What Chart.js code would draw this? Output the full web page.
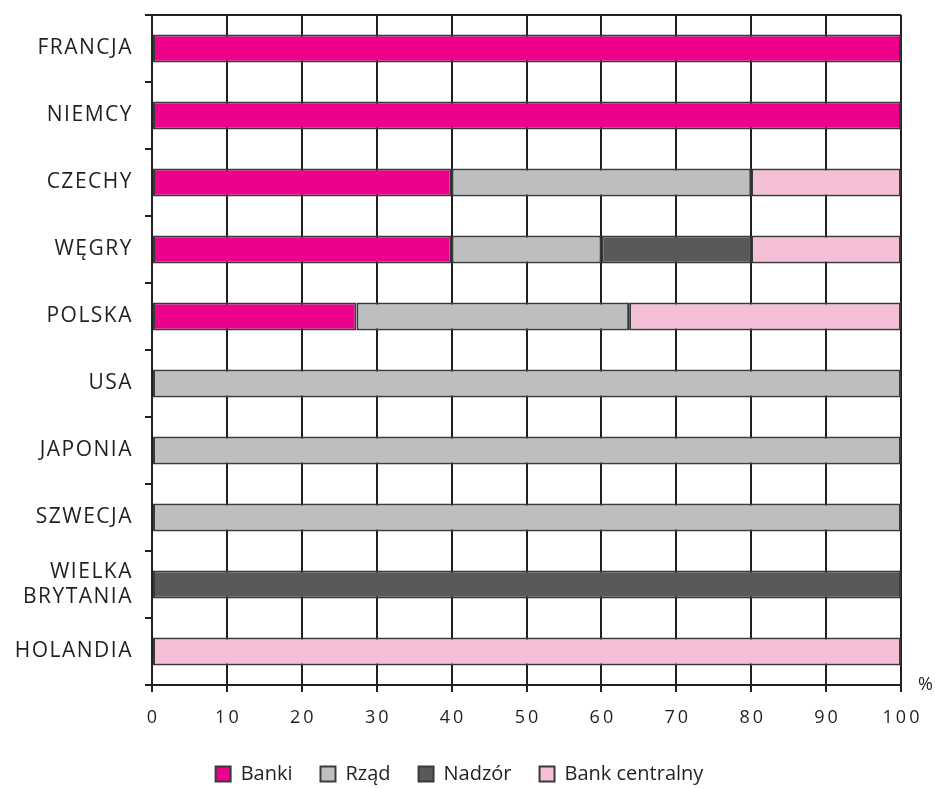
<!DOCTYPE html>
<html><head><meta charset="utf-8">
<script src="https://cdn.jsdelivr.net/npm/chart.js@4"></script>
<style>html,body{margin:0;padding:0;background:#fff}#wrap{width:935px;height:788px}</style>
</head><body><div id="wrap"><canvas id="c"></canvas></div>
<script>
const categories = ['FRANCJA','NIEMCY','CZECHY','WĘGRY','POLSKA','USA','JAPONIA','SZWECJA',['WIELKA','BRYTANIA'],'HOLANDIA'];
const banki = [100,100,40,40,27.3,null,null,null,null,null];
const rzad = [null,null,40,20,36.4,100,100,100,null,null];
const nadzor = [null,null,null,20,null,null,null,null,100,null];
const bankCentralny = [null,null,20,20,36.3,null,null,null,null,100];
const xTicks = [0,10,20,30,40,50,60,70,80,90,100];

const FONT = "'Open Sans', sans-serif";
const INK = '#231f20';
const common = {borderColor:'#3a3a3a', borderWidth:2, borderSkipped:false, categoryPercentage:1, barPercentage:0.42};

const framePlugin = {
  id:'frame',
  afterLayout(chart){
    const lg = chart.legend;
    if (lg){ lg.left += 9; lg.right += 9; }
  },
  afterUpdate(chart){
    const y = chart.scales.y;
    if (y && !y._spaced){
      const orig = y.drawLabels;
      y.drawLabels = function(ca){
        const ctx = this.ctx; const prev = ctx.letterSpacing;
        ctx.letterSpacing = '1.5px';
        orig.call(this, ca);
        ctx.letterSpacing = prev || '0px';
      };
      y._spaced = true;
    }
  },
  beforeDatasetsDraw(chart){
    const {ctx, chartArea:a} = chart;
    ctx.save();
    ctx.strokeStyle = INK; ctx.lineWidth = 2;
    ctx.beginPath(); ctx.moveTo(a.left-1, a.top); ctx.lineTo(a.right, a.top); ctx.stroke();
    ctx.restore();
  },
  afterDraw(chart){
    const {ctx, chartArea:a} = chart;
    ctx.save();
    ctx.fillStyle = INK; ctx.font = "18px " + FONT;
    ctx.textAlign = 'left'; ctx.textBaseline = 'middle';
    ctx.fillText('%', a.right + 17, a.bottom);
    ctx.restore();
  }
};

new Chart(document.getElementById('c'), {
  type:'bar',
  data:{
    labels:categories,
    datasets:[
      {label:'Banki', data:banki, backgroundColor:'#ec008c', ...common},
      {label:'Rząd', data:rzad, backgroundColor:'#bcbec0', ...common},
      {label:'Nadzór', data:nadzor, backgroundColor:'#58595b', ...common},
      {label:'Bank centralny', data:bankCentralny, backgroundColor:'#f5bfd8', ...common}
    ]
  },
  options:{
    indexAxis:'y',
    responsive:true, maintainAspectRatio:false, animation:false,
    layout:{padding:{top:15, right:34, left:0, bottom:-6}},
    scales:{
      x:{
        stacked:true, min:0, max:100,
        afterBuildTicks(s){ s.ticks = xTicks.map(v=>({value:v})); },
        afterFit(s){ s.height = 51; s.paddingLeft = 0; s.paddingRight = 0; },
        grid:{color:INK, lineWidth:2, tickLength:7, tickColor:INK, drawTicks:true},
        border:{color:INK, width:2},
        ticks:{color:INK, font:{family:FONT, size:18}, padding:15,
               callback:(v)=>String(v).split('').join('\u2009')}
      },
      y:{
        stacked:true,
        afterFit(s){ s.width = 152; s.paddingTop = 0; s.paddingBottom = 0; },
        grid:{display:true, drawOnChartArea:false, offset:true, tickLength:7, color:INK, lineWidth:2},
        border:{color:INK, width:2},
        ticks:{color:INK, font:{family:FONT, size:21}, padding:12}
      }
    },
    plugins:{
      legend:{
        position:'bottom',
        labels:{color:INK, font:{family:FONT, size:20}, boxWidth:15, boxHeight:15, padding:28}
      },
      tooltip:{enabled:false}
    }
  },
  plugins:[framePlugin]
});
</script></body></html>
